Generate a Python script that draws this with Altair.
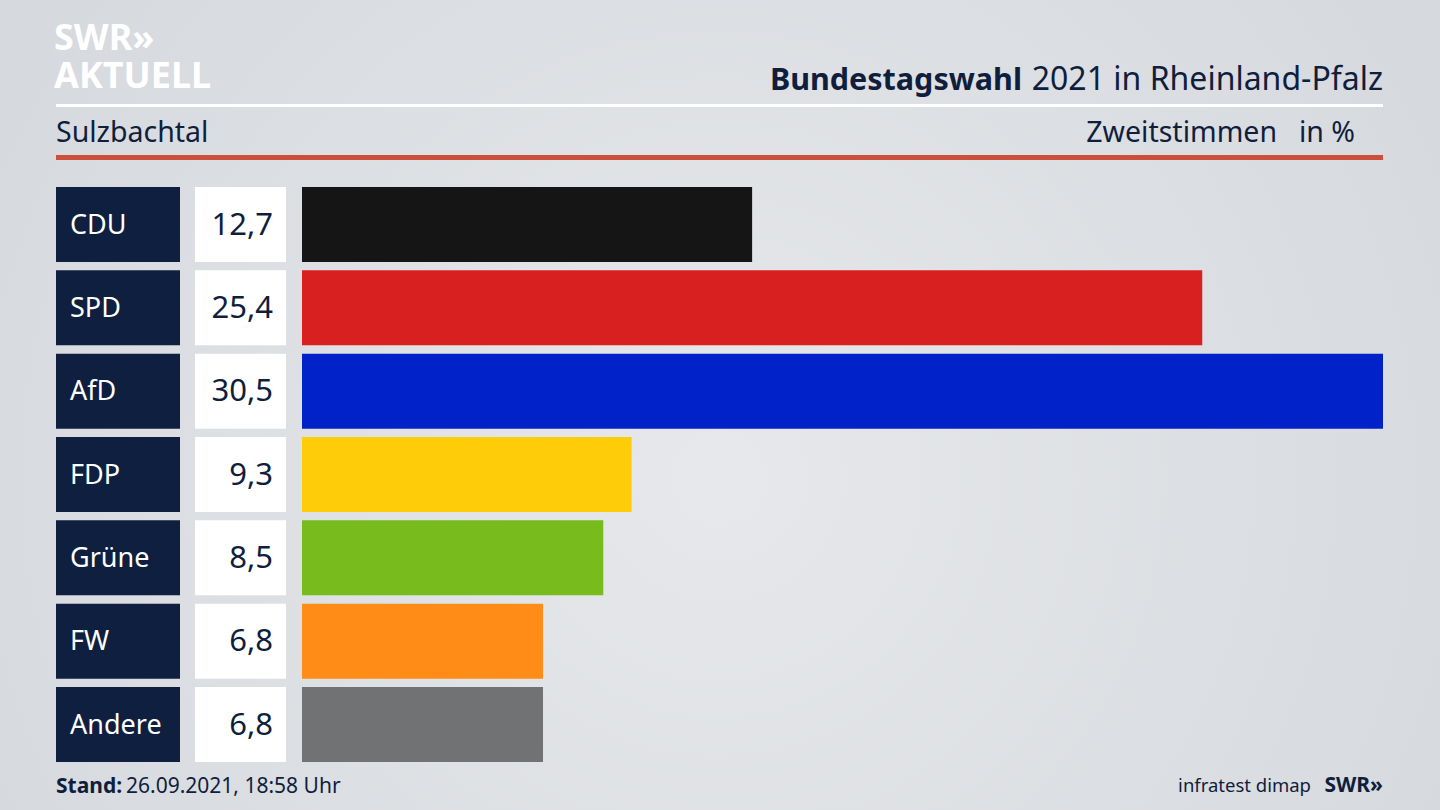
import altair as alt
import pandas as pd

parties = ["CDU", "SPD", "AfD", "FDP", "Grüne", "FW", "Andere"]
values = [12.7, 25.4, 30.5, 9.3, 8.5, 6.8, 6.8]
labels = ["12,7", "25,4", "30,5", "9,3", "8,5", "6,8", "6,8"]
colors = ["#151515", "#d7201f", "#0022c8", "#ffcc0a", "#77bb1d", "#ff8c17", "#717274"]
logo_lines = ["SWR»", "AKTUELL"]

FONT = "Noto Sans"
NAVY = "#0f1e3c"
BOX = "#0e1f3f"

df = pd.DataFrame({"party": parties, "value": values, "label": labels, "color": colors})

W, H = 1440, 810

yscale = alt.Scale(domain=parties, range=[187, 762], paddingInner=0.1, paddingOuter=0)
xscale = alt.Scale(domain=[0, 30.5], range=[302, 1383], nice=False, zero=True)

one = alt.Data(values=[{"a": 1}])

bg = alt.Chart(one).mark_rect(
    color=alt.Gradient(
        gradient="radial",
        stops=[alt.GradientStop(color="#e6e8eb", offset=0), alt.GradientStop(color="#d1d4d9", offset=1)],
        x1=0.5, y1=0.55, r1=0, x2=0.5, y2=0.55, r2=0.75,
    )
).encode(x=alt.value(0), x2=alt.value(W), y=alt.value(0), y2=alt.value(H))

base = alt.Chart(df)

name_box = base.mark_rect(color=BOX).encode(
    y=alt.Y("party:N", scale=yscale, axis=None),
    x=alt.value(56), x2=alt.value(180),
)
val_box = base.mark_rect(color="#ffffff").encode(
    y=alt.Y("party:N", scale=yscale, axis=None),
    x=alt.value(195), x2=alt.value(286),
)
bars = base.mark_bar(orient="horizontal").encode(
    y=alt.Y("party:N", scale=yscale, axis=None),
    x=alt.X("value:Q", scale=xscale, axis=None),
    x2=alt.datum(0),
    color=alt.Color("color:N", scale=None, legend=None),
)
name_txt = base.mark_text(align="left", baseline="middle", font=FONT, fontSize=27, color="#ffffff", dy=1).encode(
    y=alt.Y("party:N", scale=yscale, axis=None, bandPosition=0.5),
    x=alt.value(70),
    text="party:N",
)
val_txt = base.mark_text(align="right", baseline="middle", font=FONT, fontSize=31, color=NAVY, dy=1).encode(
    y=alt.Y("party:N", scale=yscale, axis=None, bandPosition=0.5),
    x=alt.value(273),
    text="label:N",
)

def txt(text, x, y, size, weight="normal", align="left", color=NAVY, **kw):
    return alt.Chart(one).mark_text(
        text=text, align=align, baseline="alphabetic", font=FONT, fontSize=size,
        fontWeight=weight, color=color, **kw,
    ).encode(x=alt.value(x), y=alt.value(y))

def hline(y, y2, color):
    return alt.Chart(one).mark_rect(color=color).encode(
        x=alt.value(56), x2=alt.value(1383), y=alt.value(y), y2=alt.value(y2)
    )

decor = [
    txt(logo_lines, 54, 50, 36, "bold", color="#ffffff", lineHeight=38),
    txt("Bundestagswahl", 1022, 90, 30.5, "bold", align="right"),
    txt("2021 in Rheinland-Pfalz", 1383, 90, 32, align="right"),
    hline(104, 107, "#ffffff"),
    txt("Sulzbachtal", 56, 142, 28.5),
    txt("Zweitstimmen", 1277, 142, 28.5, align="right"),
    txt("in %", 1355, 142, 28.5, align="right"),
    hline(155, 160, "#cc4f3b"),
    txt("Stand:", 56, 793, 21, "bold"),
    txt("26.09.2021, 18:58 Uhr", 126, 793, 21),
    txt("infratest dimap", 1311, 792, 18.5, align="right"),
    txt("SWR»", 1383, 792, 21, "bold", align="right"),
]

chart = alt.layer(bg, name_box, val_box, bars, name_txt, val_txt, *decor).properties(
    width=W, height=H,
    autosize=alt.AutoSizeParams(type="fit", contains="padding"),
    padding=0,
    background="#dcdfe3",
).configure_view(stroke=None)

chart.save("out.html", embed_options={"renderer": "svg", "actions": False})
